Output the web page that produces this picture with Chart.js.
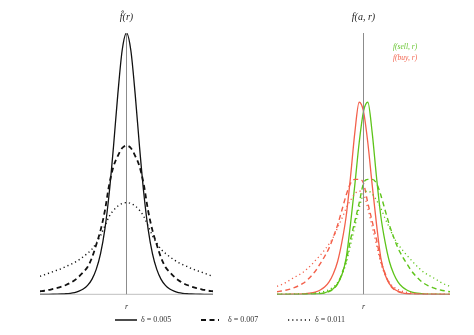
<!DOCTYPE html>
<html><head><meta charset="utf-8">
<script src="https://cdn.jsdelivr.net/npm/chart.js@4"></script>
<style>
html,body{margin:0;padding:0;background:#fff;}
body{width:474px;height:335px;overflow:hidden;position:relative;font-family:'Liberation Serif',serif;}
.panel{position:absolute;top:0;width:237px;height:335px;}
.lbl{position:absolute;font-style:italic;font-size:7.5px;line-height:9px;white-space:nowrap;}
.lg{position:absolute;font-size:8px;line-height:10px;color:#333;white-space:nowrap;}
.lgs{position:absolute;}
</style></head>
<body>
<div class="panel" style="left:0"><canvas id="c1" width="237" height="335"></canvas></div>
<div class="panel" style="left:237px"><canvas id="c2" width="237" height="335"></canvas></div>
<div class="lbl" style="left:393px;top:42px;color:#66c52e">f(sell, r)</div>
<div class="lbl" style="left:393px;top:53px;color:#f2654f">f(buy, r)</div>

<svg class="lgs" style="left:115px;top:316px" width="22" height="8"><line x1="0" y1="4" x2="22" y2="4" stroke="#111" stroke-width="1.5"/></svg>
<div class="lg" style="left:141px;top:315px">δ = 0.005</div>
<svg class="lgs" style="left:201px;top:316px" width="18" height="8"><line x1="0" y1="4" x2="18" y2="4" stroke="#111" stroke-width="1.8" stroke-dasharray="5 3.5"/></svg>
<div class="lg" style="left:228px;top:315px">δ = 0.007</div>
<svg class="lgs" style="left:288px;top:316px" width="22" height="8"><line x1="0" y1="4" x2="22" y2="4" stroke="#111" stroke-width="1.4" stroke-dasharray="1.2 3"/></svg>
<div class="lg" style="left:315px;top:315px">δ = 0.011</div>

<script>
// r grid (-5 .. 5, step 0.25)
const rValues = [-5,-4.75,-4.5,-4.25,-4,-3.75,-3.5,-3.25,-3,-2.75,-2.5,-2.25,-2,-1.75,-1.5,-1.25,-1,-0.75,-0.5,-0.25,0,0.25,0.5,0.75,1,1.25,1.5,1.75,2,2.25,2.5,2.75,3,3.25,3.5,3.75,4,4.25,4.5,4.75,5];

// f-hat(r)
const fhat005 = [0.0001,0.0002,0.0003,0.0005,0.0009,0.0015,0.0025,0.0043,0.0072,0.0122,0.0205,0.0345,0.0576,0.0956,0.156,0.250,0.387,0.567,0.767,0.934,1,0.934,0.767,0.567,0.387,0.250,0.156,0.0956,0.0576,0.0345,0.0205,0.0122,0.0072,0.0043,0.0025,0.0015,0.0009,0.0005,0.0003,0.0002,0.0001];
const fhat007 = [0.012,0.014,0.017,0.021,0.025,0.030,0.036,0.044,0.054,0.068,0.085,0.105,0.14,0.19,0.245,0.32,0.42,0.49,0.530,0.560,0.569,0.560,0.530,0.49,0.42,0.32,0.245,0.19,0.14,0.105,0.085,0.068,0.054,0.044,0.036,0.030,0.025,0.021,0.017,0.014,0.012];
const fhat011 = [0.069,0.075,0.081,0.087,0.093,0.099,0.107,0.114,0.122,0.132,0.144,0.157,0.173,0.196,0.225,0.262,0.298,0.322,0.338,0.348,0.351,0.348,0.338,0.322,0.298,0.262,0.225,0.196,0.173,0.157,0.144,0.132,0.122,0.114,0.107,0.099,0.093,0.087,0.081,0.075,0.069];

// f(buy, r)
const buy005 = [0,0.0001,0.0003,0.0005,0.0008,0.0013,0.002,0.0035,0.006,0.010,0.017,0.028,0.047,0.078,0.125,0.20,0.30,0.45,0.62,0.735,0.70,0.58,0.42,0.27,0.14,0.075,0.04,0.022,0.012,0.006,0.003,0.0015,0.0008,0.0004,0.0002,0.0001,0,0,0,0,0];
const buy007 = [0.010,0.013,0.016,0.020,0.026,0.033,0.042,0.055,0.072,0.092,0.118,0.145,0.176,0.218,0.265,0.322,0.38,0.425,0.44,0.44,0.425,0.35,0.28,0.21,0.13,0.08,0.04,0.02,0.011,0.006,0.003,0.002,0.001,0.001,0,0,0,0,0,0,0];
const buy011 = [0.031,0.037,0.045,0.055,0.065,0.074,0.084,0.098,0.114,0.132,0.150,0.170,0.192,0.218,0.255,0.29,0.33,0.36,0.385,0.395,0.385,0.33,0.26,0.19,0.12,0.075,0.045,0.028,0.018,0.012,0.008,0.006,0.004,0.003,0.002,0.0015,0.001,0.001,0.0005,0.0005,0.0003];

// f(sell, r)
const sell005 = [0,0,0,0,0,0.0001,0.0002,0.0004,0.0008,0.0015,0.003,0.006,0.012,0.022,0.04,0.075,0.14,0.27,0.42,0.58,0.70,0.735,0.62,0.45,0.30,0.20,0.125,0.078,0.047,0.028,0.017,0.010,0.006,0.0035,0.002,0.0013,0.0008,0.0005,0.0003,0.0001,0];
const sell007 = [0,0,0,0,0,0,0,0.001,0.001,0.002,0.003,0.006,0.011,0.02,0.04,0.08,0.13,0.21,0.28,0.35,0.425,0.44,0.44,0.425,0.38,0.322,0.265,0.218,0.176,0.145,0.118,0.092,0.072,0.055,0.042,0.033,0.026,0.020,0.016,0.013,0.010];
const sell011 = [0.0003,0.0005,0.0005,0.001,0.001,0.0015,0.002,0.003,0.004,0.006,0.008,0.012,0.018,0.028,0.045,0.075,0.12,0.19,0.26,0.33,0.385,0.395,0.385,0.36,0.33,0.29,0.255,0.218,0.192,0.170,0.150,0.132,0.114,0.098,0.084,0.074,0.065,0.055,0.045,0.037,0.031];

const rMin = -5, rMax = 5, yMax = 1;

const BLACK = '#111111', GRAY = '#8c8c8c', RED = '#f3604b', GREEN = '#5ec41a';
const DASH = [5, 3.5], DOT = [1.2, 3];

function curve(vals, color, width, dash) {
  return {
    data: rValues.map((r, i) => ({x: r, y: vals[i]})),
    borderColor: color, borderWidth: width, borderDash: dash || [],
    pointRadius: 0, fill: false, cubicInterpolationMode: 'monotone'
  };
}
function guides() {
  return [
    {data: [{x: rMin, y: 0}, {x: rMax, y: 0}], borderColor: GRAY, borderWidth: 1, pointRadius: 0, tension: 0},
    {data: [{x: 0, y: 0}, {x: 0, y: yMax}], borderColor: GRAY, borderWidth: 1, pointRadius: 0, tension: 0}
  ];
}

function makeChart(id, title, sets) {
  return new Chart(document.getElementById(id), {
    type: 'line',
    data: {datasets: sets},
    options: {
      responsive: false, animation: false, devicePixelRatio: 1,
      layout: {padding: {left: 40, right: 24, top: 0, bottom: 23}},
      plugins: {
        legend: {display: false}, tooltip: {enabled: false},
        title: {display: true, text: title, color: '#222',
          font: {family: "'Liberation Serif', serif", size: 10, style: 'italic', weight: 'normal'},
          padding: {top: 11, bottom: 10}}
      },
      scales: {
        x: {type: 'linear', min: rMin, max: rMax,
            grid: {display: false, drawTicks: false}, border: {display: false}, ticks: {display: false},
            title: {display: true, text: 'r', color: '#333',
              font: {family: "'Liberation Serif', serif", size: 8, style: 'italic'},
              padding: {top: 8, bottom: 0}}},
        y: {display: false, min: 0, max: yMax}
      }
    }
  });
}

makeChart('c1', 'f\u0302(r)', [
  ...guides(),
  curve(fhat011, BLACK, 1.4, DOT),
  curve(fhat007, BLACK, 1.8, DASH),
  curve(fhat005, BLACK, 1.3)
]);

makeChart('c2', 'f(a, r)', [
  ...guides(),
  curve(buy011, RED, 1.3, DOT),
  curve(sell011, GREEN, 1.3, DOT),
  curve(buy007, RED, 1.4, DASH),
  curve(sell007, GREEN, 1.4, DASH),
  curve(buy005, RED, 1.3),
  curve(sell005, GREEN, 1.3)
]);
</script>
</body></html>
